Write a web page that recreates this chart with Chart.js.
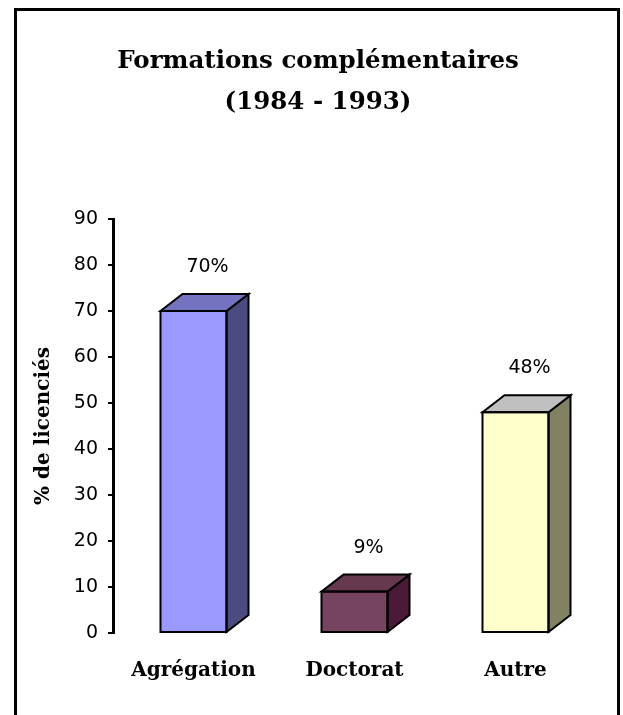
<!DOCTYPE html>
<html>
<head>
<meta charset="utf-8">
<script src="https://cdn.jsdelivr.net/npm/chart.js@4/dist/chart.umd.min.js"></script>
<style>
  html, body { margin: 0; padding: 0; background: #ffffff; }
  canvas { display: block; }
</style>
</head>
<body>
<canvas id="c" width="623" height="715"></canvas>
<script>
// ---- data ----
const titleLines = ['Formations complémentaires', '(1984 - 1993)'];
const categories = ['Agrégation', 'Doctorat', 'Autre'];
const values = [70, 9, 48];
const yAxisTitle = '% de licenciés';
const yMin = 0, yMax = 90, yStep = 10;

// ---- styles ----
const frontColors = ['#9999FF', '#764360', '#FFFFCC'];
const sideColors  = ['#4B4B82', '#4B1A36', '#828262'];
const topColors   = ['#7373BF', '#66394F', '#C0C0C0'];
const depthX = 22, depthY = 17;

const border3D = {
  id: 'border3D',
  beforeDraw(chart) {
    const ctx = chart.ctx;
    ctx.save();
    ctx.fillStyle = '#ffffff';
    ctx.fillRect(0, 0, chart.width, chart.height);
    ctx.strokeStyle = '#000';
    ctx.lineWidth = 3;
    ctx.strokeRect(15.5, 9.5, 603, 730);
    ctx.restore();
  },
  afterDatasetsDraw(chart) {
    const ctx = chart.ctx;
    const meta = chart.getDatasetMeta(0);
    ctx.save();
    ctx.lineWidth = 2;
    ctx.strokeStyle = '#000';
    ctx.lineJoin = 'miter';
    meta.data.forEach((bar, i) => {
      const p = bar.getProps(['x', 'y', 'base', 'width'], true);
      const l = p.x - p.width / 2, r = p.x + p.width / 2;
      // side face
      ctx.beginPath();
      ctx.moveTo(r, p.y);
      ctx.lineTo(r + depthX, p.y - depthY);
      ctx.lineTo(r + depthX, p.base - depthY);
      ctx.lineTo(r, p.base);
      ctx.closePath();
      ctx.fillStyle = sideColors[i];
      ctx.fill();
      ctx.stroke();
      // top face
      ctx.beginPath();
      ctx.moveTo(l, p.y);
      ctx.lineTo(l + depthX, p.y - depthY);
      ctx.lineTo(r + depthX, p.y - depthY);
      ctx.lineTo(r, p.y);
      ctx.closePath();
      ctx.fillStyle = topColors[i];
      ctx.fill();
      ctx.stroke();
      // front outline
      ctx.strokeRect(l, p.y, p.width, p.base - p.y);
      // value label
      ctx.fillStyle = '#000';
      ctx.font = '19px "DejaVu Sans"';
      ctx.textAlign = 'center';
      ctx.textBaseline = 'middle';
      ctx.fillText(values[i] + '%', p.x + 14, p.y - depthY - 27);
    });
    ctx.restore();
  }
};

new Chart(document.getElementById('c'), {
  type: 'bar',
  data: {
    labels: categories,
    datasets: [{
      data: values,
      backgroundColor: frontColors,
      borderColor: '#000',
      borderWidth: 0,
      categoryPercentage: 1,
      barPercentage: 0.41
    }]
  },
  options: {
    responsive: false,
    animation: false,
    devicePixelRatio: 1,
    layout: { padding: { left: 40, right: 27, top: 0, bottom: 0 } },
    plugins: {
      legend: { display: false },
      tooltip: { enabled: false },
      title: {
        display: true,
        text: titleLines,
        color: '#000',
        font: { family: 'DejaVu Serif', size: 24.5, weight: 'bold', lineHeight: 41 / 24.5 },
        padding: { top: 41, bottom: 96 }
      }
    },
    scales: {
      x: {
        grid: { display: false, drawTicks: false },
        border: { display: false },
        ticks: {
          color: '#000',
          padding: 26,
          font: { family: 'DejaVu Serif', size: 20, weight: 'bold' }
        },
        afterFit(scale) { scale.height = 82; }
      },
      y: {
        min: yMin,
        max: yMax,
        ticks: {
          stepSize: yStep,
          color: '#000',
          padding: 10,
          font: { family: 'DejaVu Sans', size: 19 }
        },
        grid: {
          display: true,
          drawOnChartArea: false,
          drawTicks: true,
          tickLength: 5,
          color: '#000',
          lineWidth: 2
        },
        border: { display: true, color: '#000', width: 3 },
        title: {
          display: true,
          text: yAxisTitle,
          color: '#000',
          font: { family: 'DejaVu Serif', size: 20, weight: 'bold' },
          padding: { top: -8, bottom: 0 }
        },
        afterFit(scale) { scale.width = 73; }
      }
    }
  },
  plugins: [border3D]
});
</script>
</body>
</html>
